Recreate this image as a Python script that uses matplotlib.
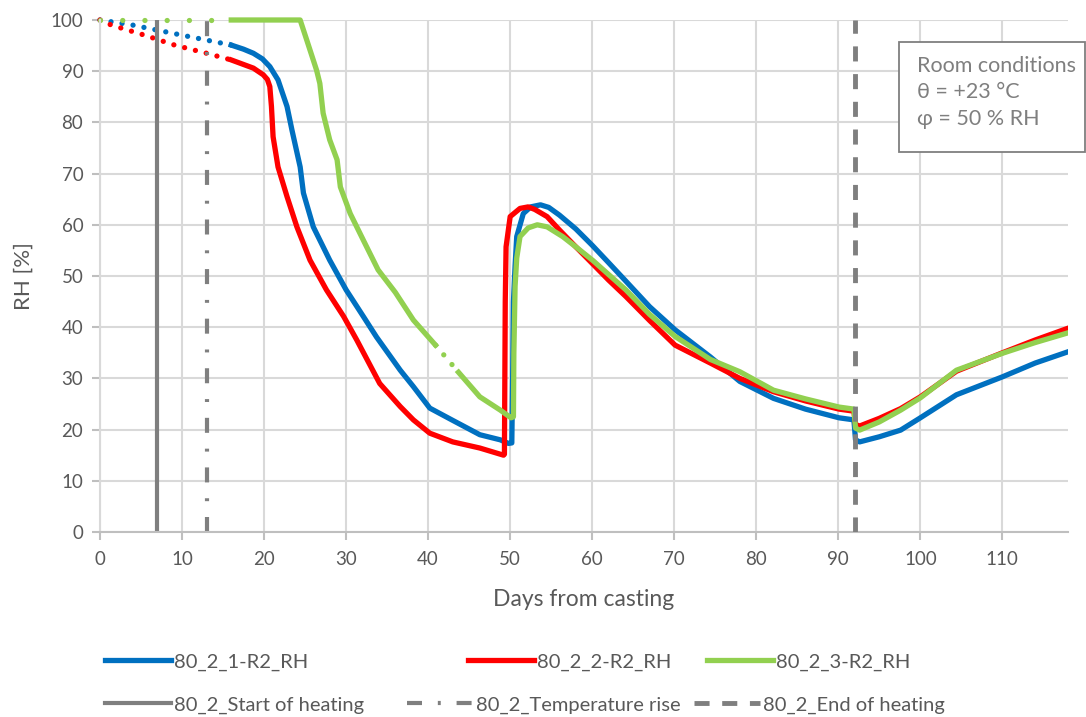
import numpy as np
import matplotlib
matplotlib.use("Agg")
import matplotlib.pyplot as plt
from matplotlib.patches import Rectangle
from matplotlib.lines import Line2D

plt.rcParams['font.family'] = ['Lato', 'DejaVu Sans']

# --- data ---
# dotted (early, sparse) parts
blue_pre_x = [0, 4, 9.5, 16]
blue_pre_y = [100, 99.0, 97.2, 95.1]
red_pre_x = [0, 1.4, 5.3, 9.1, 13, 16]
red_pre_y = [100, 99.0, 97.1, 95.1, 93.5, 92.2]
green_pre_x = [0, 16]
green_pre_y = [100, 100]

# 80_2_1-R2_RH
blue_x = [16, 17.5, 18.7, 19.8, 20.7, 21.7, 22.8, 23.4, 24.4, 24.8, 26.0, 28.0, 30.0, 32.1, 33.7,
          36.6, 38.2, 40.2, 43, 46.3, 48.8, 49.8, 50.2, 50.3, 50.4, 50.6, 50.8, 51.6,
          52.5, 53.7, 54.7, 56, 58, 60, 62, 64.1, 67, 70.1, 74.4, 78, 82.1, 86, 90.1,
          91.9, 92.1, 92.6, 95, 97.6, 100, 104.4, 110, 114, 118]
blue_y = [95.1, 94.3, 93.5, 92.4, 90.9, 88.3, 83.1, 78.5, 71.3, 66.2, 59.6, 53.1, 47.3, 42.1, 38.1,
          31.6, 28.4, 24.2, 21.8, 19.0, 18.0, 17.3, 17.4, 30, 45, 52, 57.7, 62.2,
          63.5, 63.9, 63.4, 61.9, 59.2, 56.0, 52.6, 49.0, 44.0, 39.5, 34.2, 29.4, 26.1, 24.0, 22.3,
          21.9, 18.0, 17.6, 18.6, 19.9, 22.3, 26.8, 30.3, 33.0, 35.2]

# 80_2_2-R2_RH
red_x = [16, 18.7, 19.9, 20.4, 20.7, 20.9, 21.1, 21.7, 22.8, 24.0, 25.6, 27.6, 29.7, 31.3,
         34.1, 36.6, 38.2, 40.2, 43, 46.3, 49.2, 49.3, 49.35, 49.4, 49.5, 50, 51.2,
         52.2, 53, 54.5, 56, 58, 60.1, 62, 64.1, 67, 70.1, 74.4, 78, 82.1, 86, 90.1,
         91.9, 92.1, 92.6, 95, 97.6, 100, 104.4, 110, 114, 118]
red_y = [92.2, 90.6, 89.3, 88.4, 87.0, 83.1, 77.2, 71.3, 65.5, 59.6, 53.1, 47.3, 42.1, 37.5,
         29.0, 24.5, 21.9, 19.3, 17.6, 16.4, 15.0, 15.2, 30, 45, 55.7, 61.6, 63.2,
         63.5, 63.0, 61.6, 59.0, 55.7, 52.3, 49.2, 46.0, 41.3, 36.5, 33.0, 30.0, 27.4, 25.6, 24.0,
         23.6, 21.0, 20.7, 22.2, 24.1, 26.4, 31.4, 35.0, 37.5, 39.8]

# 80_2_3-R2_RH (gap 40.9-43.7 drawn dotted)
green_a_x = [16, 24.4, 25.2, 26.4, 26.8, 27.2, 28.0, 28.9, 29.3, 30.5, 32.1, 33.9,
             36, 38.2, 40.9]
green_a_y = [100, 100, 96.1, 90.2, 87.6, 81.8, 76.6, 72.7, 67.4, 62.2, 57.0, 51.2,
             46.8, 41.4, 36.5]
green_gap_x = [40.9, 43.7]
green_gap_y = [36.5, 31.2]
green_b_x = [43.7, 46.3, 48.8, 50.1, 50.4, 50.45, 50.6, 50.8, 51.2, 52.2, 53.3, 54.5,
             56.4, 58, 60.1, 64.1, 67, 70.1, 74.4, 78, 82.1, 86, 90.1, 91.9, 92.1,
             92.6, 95, 97.6, 100, 104.4, 110, 114, 118]
green_b_y = [31.2, 26.4, 23.8, 22.3, 22.5, 35, 48, 53.5, 57.7, 59.4, 60.0, 59.6,
             57.7, 55.7, 53.0, 47.3, 42.5, 38.2, 33.7, 31.3, 27.7, 26.0, 24.4, 24.0, 20.3,
             19.9, 21.5, 23.8, 26.2, 31.6, 34.9, 37.0, 38.9]

start_heating = 7.0
temperature_rise = 13.0
end_heating = 92.0

blue = '#0070C0'
red = '#FF0000'
green = '#92D050'
gray = '#7F7F7F'
txt = '#595959'

fig = plt.figure(figsize=(10.86, 7.17), dpi=100)
ax = fig.add_axes([100 / 1086, 1 - 532 / 717, 968 / 1086, 512 / 717])

lw = 3.8
dot = (0, (0.01, 2.1))
ax.plot(blue_pre_x, blue_pre_y, color=blue, lw=lw, ls=dot, dash_capstyle='round', clip_on=False)
ax.plot(red_pre_x, red_pre_y, color=red, lw=lw, ls=dot, dash_capstyle='round', clip_on=False)
ax.plot(green_pre_x, green_pre_y, color=green, lw=lw, ls=(0, (0.01, 4.2)),
        dash_capstyle='round', clip_on=False)

ax.plot(blue_x, blue_y, color=blue, lw=lw, solid_joinstyle='round', zorder=3)
ax.plot(red_x, red_y, color=red, lw=lw, solid_joinstyle='round', zorder=3)
ax.plot(green_a_x, green_a_y, color=green, lw=lw, solid_joinstyle='round', zorder=3, clip_on=False)
ax.plot(green_gap_x, green_gap_y, color=green, lw=lw, ls=(0, (0.01, 2.4)),
        dash_capstyle='round', zorder=3)
ax.plot(green_b_x, green_b_y, color=green, lw=lw, solid_joinstyle='round', zorder=3)

ls_rise = (0, (3.6, 3.8, 0.7, 3.8))
ls_end = (0, (3.1, 2.6))
ax.axvline(start_heating, color=gray, lw=3, zorder=2)
ax.axvline(temperature_rise, color=gray, lw=3, ls=ls_rise, zorder=2)
ax.axvline(end_heating, color=gray, lw=3.5, ls=ls_end, zorder=4)

ax.set_xlim(0, 118)
ax.set_ylim(0, 100)
ax.set_xticks(np.arange(0, 111, 10))
ax.set_yticks(np.arange(0, 101, 10))
ax.grid(True, color='#D9D9D9', lw=1.5)
ax.set_axisbelow(True)
for s in ['top', 'right']:
    ax.spines[s].set_visible(False)
ax.spines['left'].set_color('#D9D9D9')
ax.spines['left'].set_linewidth(1.5)
ax.spines['bottom'].set_color('#BFBFBF')
ax.spines['bottom'].set_linewidth(1.5)
ax.tick_params(axis='both', colors='#BFBFBF', labelcolor=txt, labelsize=13.5,
               length=6, width=1.5)
ax.tick_params(axis='x', pad=8)
ax.tick_params(axis='y', pad=6)
ax.set_xlabel('Days from casting', fontsize=16.5, color=txt, labelpad=15)
ax.set_ylabel('RH [%]', fontsize=16, color=txt, labelpad=12)

# room conditions box
fig.patches.append(Rectangle((899 / 1086, 1 - 152 / 717), 186 / 1086, 110 / 717,
                             transform=fig.transFigure, facecolor='white',
                             edgecolor=gray, lw=1.3, zorder=5))
box_lines = ['Room conditions', 'θ = +23 °C', 'φ = 50 % RH']
for i, t in enumerate(box_lines):
    fig.text(917 / 1086, 1 - (66 + 26.5 * i) / 717, t, fontsize=15.5, color='#7F7F7F',
             va='center', ha='left', zorder=6)

# legend entries placed like the reference (two rows)
entries = [
    (Line2D([], [], color=blue, lw=lw), '80_2_1-R2_RH', 105, 662),
    (Line2D([], [], color=red, lw=lw), '80_2_2-R2_RH', 468, 662),
    (Line2D([], [], color=green, lw=lw), '80_2_3-R2_RH', 707, 662),
    (Line2D([], [], color=gray, lw=3), '80_2_Start of heating', 105, 705),
    (Line2D([], [], color=gray, lw=3, ls=ls_rise), '80_2_Temperature rise', 407, 705),
    (Line2D([], [], color=gray, lw=3.5, ls=ls_end), '80_2_End of heating', 694, 705),
]
for h, lab, px, py in entries:
    fig.legend([h], [lab], loc='center left', bbox_to_anchor=(px / 1086, 1 - py / 717),
               frameon=False, fontsize=14.5, labelcolor=txt, handlelength=3.3,
               handletextpad=0.15, borderpad=0, borderaxespad=0)

fig.savefig('out.png', dpi=100)
